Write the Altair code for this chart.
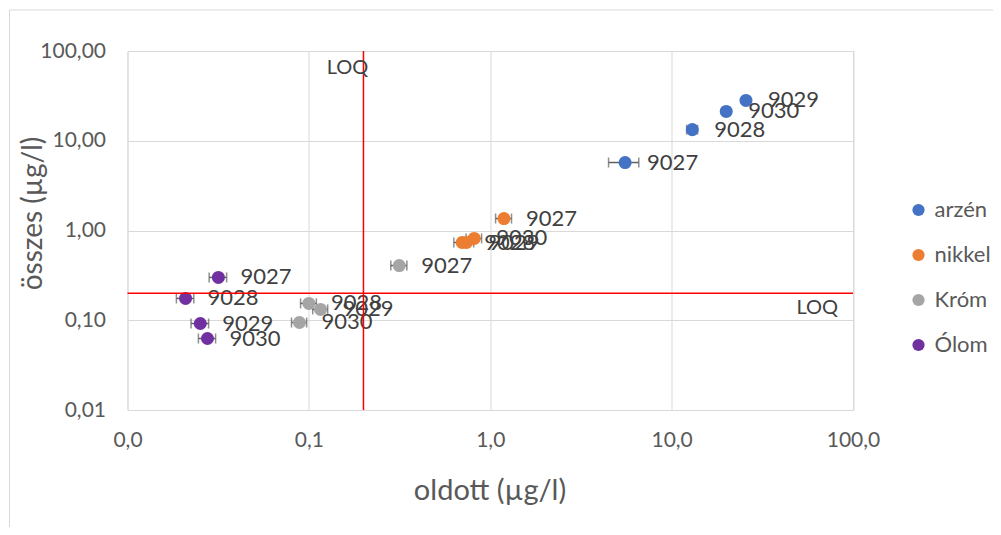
import altair as alt
import pandas as pd

# ---- data ----
series = ["arzén"] * 4 + ["nikkel"] * 4 + ["Króm"] * 4 + ["Ólom"] * 4
sample_ids = ["9027", "9028", "9029", "9030"] * 4
oldott = [5.54, 13.0, 25.7, 20.0,
          1.19, 0.70, 0.74, 0.816,
          0.315, 0.100, 0.116, 0.0887,
          0.0317, 0.0209, 0.0252, 0.0276]
osszes = [5.72, 13.3, 28.1, 21.2,
          1.36, 0.735, 0.735, 0.815,
          0.407, 0.154, 0.132, 0.0944,
          0.30, 0.175, 0.092, 0.0626]
oldott_err = [1.05, 0.9, 1.0, 0.9,
              0.12, 0.07, 0.07, 0.08,
              0.032, 0.010, 0.011, 0.0085,
              0.0035, 0.0023, 0.0028, 0.0030]

series_order = ["arzén", "nikkel", "Króm", "Ólom"]
series_colors = ["#4472C4", "#ED7D31", "#A5A5A5", "#7030A0"]

loq_value = [0.2]
axis_values = [0.01, 0.1, 1, 10, 100]
loq_label_x = [0.2, 100]
loq_label_y = [100, 0.2]

df = pd.DataFrame({
    "sorozat": series,
    "minta": sample_ids,
    "oldott": oldott,
    "osszes": osszes,
    "err": oldott_err,
})
loq_df = pd.DataFrame({"loq": loq_value})
loq_lbl_df = pd.DataFrame({"x": loq_label_x, "y": loq_label_y, "t": ["LOQ", "LOQ"],
                           "kind": ["v", "h"]})

FONT = "Lato"
GRID = "#D9D9D9"
TXT = "#595959"
DARK = "#404040"

xscale = alt.Scale(type="log", domain=[0.01, 100], nice=False)
yscale = alt.Scale(type="log", domain=[0.01, 100], nice=False)

xaxis = alt.Axis(
    values=axis_values,
    labelExpr="replace(format(datum.value, '.1f'), '.', ',')",
    grid=True, gridColor=GRID, gridWidth=1,
    domain=True, domainColor=GRID, ticks=False, labelFlush=False,
    labelFontSize=21, labelColor=TXT, labelPadding=19, labelFont=FONT,
    title="oldott (µg/l)", titleFontSize=29, titleColor=TXT, titleFont=FONT,
    titleFontWeight="normal", titleX=362, titleY=80, titleBaseline="middle",
)
yaxis = alt.Axis(
    values=axis_values,
    labelExpr="replace(format(datum.value, '.2f'), '.', ',')",
    grid=True, gridColor=GRID, gridWidth=1,
    domain=False, ticks=False, labelFlush=False,
    labelFontSize=21, labelColor=TXT, labelPadding=22, labelFont=FONT,
    title="összes (µg/l)", titleFontSize=28, titleColor=TXT, titleFont=FONT,
    titleFontWeight="normal", titleX=-94, titleY=162, titleBaseline="middle",
    titleAlign="center", titleAngle=-90,
)

base = alt.Chart(df).transform_calculate(
    xlo="datum.oldott - datum.err",
    xhi="datum.oldott + datum.err",
)

errbars = base.mark_rule(color="#606060", strokeWidth=1.5).encode(
    x=alt.X("xlo:Q", scale=xscale, axis=xaxis),
    x2="xhi:Q",
    y=alt.Y("osszes:Q", scale=yscale, axis=yaxis),
)
cap_lo = base.mark_tick(color="#606060", orient="vertical", size=10, thickness=1.5).encode(
    x=alt.X("xlo:Q", scale=xscale),
    y=alt.Y("osszes:Q", scale=yscale),
)
cap_hi = base.mark_tick(color="#606060", orient="vertical", size=10, thickness=1.5).encode(
    x=alt.X("xhi:Q", scale=xscale),
    y=alt.Y("osszes:Q", scale=yscale),
)

points = alt.Chart(df).mark_point(filled=True, opacity=1, size=170).encode(
    x=alt.X("oldott:Q", scale=xscale),
    y=alt.Y("osszes:Q", scale=yscale),
    color=alt.Color(
        "sorozat:N",
        scale=alt.Scale(domain=series_order, range=series_colors),
        sort=series_order,
        legend=alt.Legend(
            title=None, orient="none", legendX=780, legendY=148,
            symbolType="circle", symbolSize=150, symbolStrokeWidth=0,
            labelFontSize=22, labelColor=TXT, labelFont=FONT,
            labelOffset=5, rowPadding=23, padding=0,
        ),
    ),
)

labels = alt.Chart(df).mark_text(
    align="left", baseline="middle", dx=22, fontSize=22, font=FONT, color=DARK
).encode(
    x=alt.X("oldott:Q", scale=xscale),
    y=alt.Y("osszes:Q", scale=yscale),
    text="minta:N",
)

loq_v = alt.Chart(loq_df).mark_rule(color="#FF0000", strokeWidth=1.5).encode(
    x=alt.X("loq:Q", scale=xscale),
)
loq_h = alt.Chart(loq_df).mark_rule(color="#FF0000", strokeWidth=1.5).encode(
    y=alt.Y("loq:Q", scale=yscale),
)

loq_txt_v = alt.Chart(loq_lbl_df).transform_filter("datum.kind == 'v'").mark_text(
    align="center", baseline="middle", dx=-16, dy=17, fontSize=20, font=FONT, color=DARK
).encode(x=alt.X("x:Q", scale=xscale), y=alt.Y("y:Q", scale=yscale), text="t:N")
loq_txt_h = alt.Chart(loq_lbl_df).transform_filter("datum.kind == 'h'").mark_text(
    align="right", baseline="middle", dx=-15, dy=15, fontSize=20, font=FONT, color=DARK
).encode(x=alt.X("x:Q", scale=xscale), y=alt.Y("y:Q", scale=yscale), text="t:N")

# outer chart-area frame (decoration)
frame_left = alt.Chart(loq_df).mark_rule(color="#D9D9D9", strokeWidth=1).encode(
    x=alt.value(-118), y=alt.value(-41), y2=alt.value(480)
)
frame_top = alt.Chart(loq_df).mark_rule(color="#D9D9D9", strokeWidth=1).encode(
    x=alt.value(-118), x2=alt.value(870), y=alt.value(-41)
)

chart = alt.layer(
    frame_left, frame_top,
    errbars, cap_lo, cap_hi, points, labels,
    loq_v, loq_h, loq_txt_v, loq_txt_h,
).properties(
    width=725.5, height=359,
    autosize=alt.AutoSizeParams(type="none"),
    padding={"left": 119.5, "top": 43, "right": 140, "bottom": 117},
).configure_view(stroke=None).configure(font=FONT)

chart.save("out.html", embed_options={"renderer": "svg", "actions": False})
